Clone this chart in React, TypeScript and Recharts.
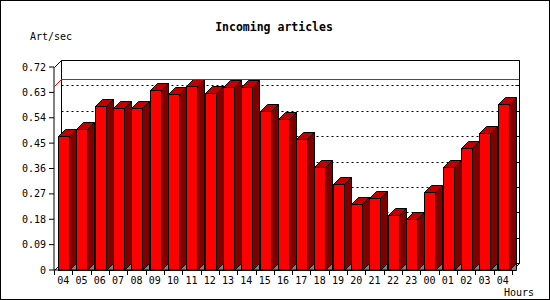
import React from "react";
import {
  Bar,
  BarChart,
  CartesianGrid,
  ReferenceArea,
  ReferenceLine,
  XAxis,
  YAxis,
} from "recharts";

const hours = [
  "04", "05", "06", "07", "08", "09", "10", "11", "12", "13", "14", "15", "16",
  "17", "18", "19", "20", "21", "22", "23", "00", "01", "02", "03", "04",
];
const articleRates = [
  0.475, 0.5, 0.58, 0.573, 0.574, 0.64, 0.623, 0.652, 0.627, 0.648, 0.648,
  0.564, 0.534, 0.463, 0.364, 0.304, 0.233, 0.254, 0.194, 0.18, 0.276, 0.364,
  0.431, 0.485, 0.588,
];
const yTicks = [0, 0.09, 0.18, 0.27, 0.36, 0.45, 0.54, 0.63, 0.72];

const maxRate = Math.max(...articleRates);
const data = hours.map((hour, i) => ({ hour, rate: articleRates[i] }));

const FONT = "'DejaVu Sans Mono', 'Liberation Mono', monospace";
const DEPTH = 7;

const snap = (v: number) => Math.round(v) + 0.5;

// 3d bar: front face, top and side, plus floor shadow
const Bar3D = (props: any) => {
  const { x, y, width, height } = props;
  if (height == null || width == null) return null;
  const x0 = snap(x);
  const x1 = x0 + Math.round(width);
  const y0 = snap(y);
  const y1 = snap(y + height);
  const d = DEPTH;
  return (
    <g stroke="#000" strokeWidth={1}>
      <polygon
        points={`${x1},${y1} ${x1 + d},${y1 - d} ${x1 + d},${y1}`}
        fill="#808080"
      />
      <rect x={x0} y={y0} width={x1 - x0} height={y1 - y0} fill="#ff0000" />
      <polygon
        points={`${x0},${y0} ${x0 + d},${y0 - d} ${x1 + d},${y0 - d} ${x1},${y0}`}
        fill="#c00000"
      />
      <polygon
        points={`${x1},${y0} ${x1 + d},${y0 - d} ${x1 + d},${y1 - d} ${x1},${y1}`}
        fill="#800000"
      />
    </g>
  );
};

const Frame3D = (props: any) => {
  const { x, y, width, height } = props;
  const l = snap(x);
  const t = snap(y);
  const r = snap(x + width);
  const b = snap(y + height);
  const d = DEPTH;
  return (
    <g stroke="#000" strokeWidth={1} fill="none">
      <line x1={l + d} y1={t - d} x2={r + d} y2={t - d} />
      <line x1={l + d} y1={t - d} x2={l + d} y2={b - d} />
      <line x1={r + d} y1={t - d} x2={r + d} y2={b - d} />
      <line x1={l} y1={t} x2={l + d} y2={t - d} />
      <line x1={l} y1={b} x2={l + d} y2={b - d} />
      <line x1={r} y1={b} x2={r + d} y2={b - d} />
    </g>
  );
};

const MaxLine = (props: any) => {
  const { x1, y1, x2 } = props;
  const yy = snap(y1);
  const l = snap(x1);
  const r = snap(x2);
  const d = DEPTH;
  return (
    <polyline
      points={`${l},${yy} ${l + d},${yy - d} ${r + d},${yy - d}`}
      fill="none"
      stroke="#ff0000"
      strokeWidth={1}
    />
  );
};

const renderGridLine = (props: any) => {
  const { x1, x2, y1, index } = props;
  const yy = snap(y1) - DEPTH;
  const l = snap(x1) + DEPTH;
  const r = snap(x2) + DEPTH;
  return (
    <g key={`grid-${index}`}>
      <line x1={l} y1={yy} x2={r - 4} y2={yy} stroke="#000" strokeDasharray="2 3" />
      <line x1={r - 4} y1={yy} x2={r} y2={yy} stroke="#000" />
    </g>
  );
};

const HourTick = (props: any) => {
  const { x, y, payload, index } = props;
  const off = payload?.offset ?? 9.16;
  const yy = Math.round(y);
  return (
    <g>
      <line x1={snap(x - off)} y1={yy} x2={snap(x - off)} y2={yy + 5} stroke="#000" />
      {index === hours.length - 1 && (
        <line x1={snap(x + off)} y1={yy} x2={snap(x + off)} y2={yy + 5} stroke="#000" />
      )}
      <text
        x={x}
        y={yy + 14}
        textAnchor="middle"
        fontFamily={FONT}
        fontSize={10}
        fill="#000"
      >
        {payload.value}
      </text>
    </g>
  );
};

export default function App() {
  return (
    <div
      style={{
        position: "absolute",
        left: 0,
        top: 0,
        width: 550,
        height: 300,
        background: "#fff",
      }}
    >
      <BarChart
        width={550}
        height={300}
        data={data}
        barSize={11}
        margin={{ top: 67, right: 38, bottom: 0, left: 0 }}
      >
        <CartesianGrid vertical={false} horizontal={renderGridLine} />
        <ReferenceArea y1={0} y2={0.72} shape={<Frame3D />} />
        <XAxis
          dataKey="hour"
          height={30}
          tickSize={0}
          tickMargin={0}
          tickLine={false}
          interval={0}
          axisLine={{ stroke: "#000" }}
          tick={<HourTick />}
        />
        <YAxis
          width={54}
          domain={[0, 0.72]}
          ticks={yTicks}
          interval={0}
          tickSize={5}
          tickMargin={3}
          axisLine={{ stroke: "#000" }}
          tickLine={{ stroke: "#000" }}
          tickFormatter={(v: number) => (v === 0 ? "0" : v.toFixed(2))}
          tick={{ fontFamily: FONT, fontSize: 10, fill: "#000" }}
        />
        <ReferenceLine y={maxRate} shape={<MaxLine />} />
        <Bar dataKey="rate" shape={<Bar3D />} isAnimationActive={false} />
      </BarChart>
      <svg
        width={550}
        height={300}
        style={{ position: "absolute", left: 0, top: 0, pointerEvents: "none" }}
      >
        <rect x={0.5} y={0.5} width={549} height={299} fill="none" stroke="#000" />
        <text x={274} y={31} textAnchor="middle" fontFamily={FONT} fontSize={11.5} fontWeight="bold">
          Incoming articles
        </text>
        <text x={30} y={40} fontFamily={FONT} fontSize={10}>
          Art/sec
        </text>
        <text x={504} y={296} fontFamily={FONT} fontSize={10}>
          Hours
        </text>
      </svg>
    </div>
  );
}
